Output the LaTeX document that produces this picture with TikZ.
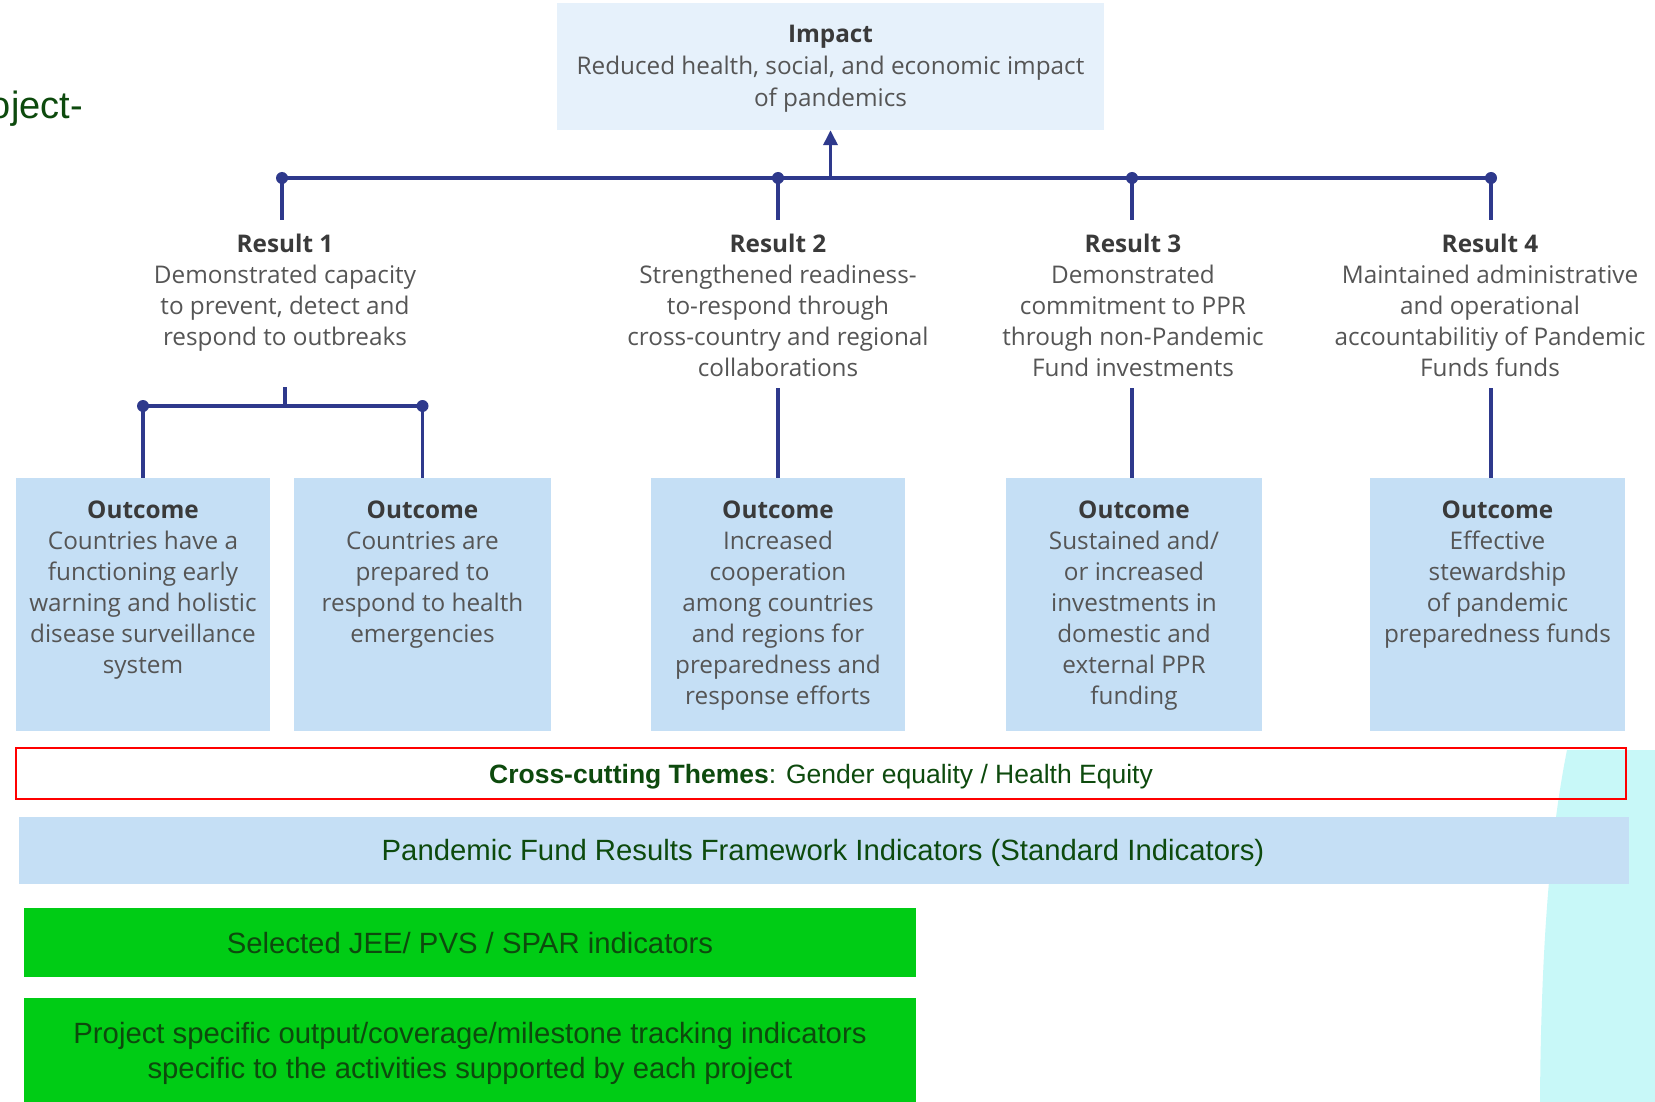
\documentclass[tikz,border=0pt]{standalone}
\usepackage{fontspec}
\setmainfont{Open Sans}
\newfontfamily\arialf{Liberation Sans}
\usetikzlibrary{arrows.meta}
\definecolor{navy}{HTML}{2E398C}
\definecolor{txtgray}{HTML}{555555}
\definecolor{hdgray}{HTML}{3A3A3A}
\definecolor{paleblue}{HTML}{E6F1FB}
\definecolor{boxblue}{HTML}{C5DFF5}
\definecolor{dkgreen}{HTML}{0D4A0D}
\definecolor{brgreen}{HTML}{00CC15}
\definecolor{cyanbg}{HTML}{C8F8F8}
\definecolor{redline}{HTML}{FF0000}
\begin{document}
\begin{tikzpicture}[x=1pt,y=-1pt,
  conn/.style={draw=navy, line width=3.5pt},
  jdot/.style={circle, fill=navy, inner sep=0pt, minimum size=12pt},
  obox/.style={fill=boxblue, draw=none, inner sep=0pt, minimum height=253pt},
  dtext/.style={align=center, inner sep=0pt, text=txtgray, font=\fontsize{24.3}{31}\selectfont},
  gtext/.style={text=dkgreen, font=\arialf\fontsize{29.3}{35}\selectfont, align=center, inner sep=0pt},
]
\useasboundingbox (0,0) rectangle (1655,1102);
\fill[white] (0,0) rectangle (1655,1102);
\clip (0,0) rectangle (1655,1102);

% background cyan shape at right
\fill[cyanbg] (1567,750) -- (1655,750) -- (1655,1102) -- (1540,1102)
  .. controls (1541,940) and (1551,830) .. (1567,750) -- cycle;

% cut-off title text
\node[text=dkgreen, font=\arialf\fontsize{38}{42}\selectfont, anchor=base east, inner sep=0pt] (title) at (83,119) {oject-};

% impact
\node[fill=paleblue, inner sep=0pt, minimum width=547pt, minimum height=127pt] (impact) at (830.5,66.5) {};
\node[dtext, font=\fontsize{24.3}{32}\selectfont, anchor=north] (impactt) at (830.5,24.5)
  {\textcolor{hdgray}{\bfseries Impact}\\Reduced health, social, and economic impact\\of pandemics};

% main bus
\coordinate (j1) at (282,178);
\coordinate (j2) at (778,178);
\coordinate (j3) at (1132,178);
\coordinate (j4) at (1491,178);
\coordinate (ja) at (830.5,178);
\draw[conn] (j1) -- (j4);
\draw[conn, -{Triangle[width=14pt,length=15pt]}] (ja) -- (impact.south);
\coordinate (s1) at (282,220);
\coordinate (s2) at (778,220);
\coordinate (s3) at (1132,220);
\coordinate (s4) at (1491,220);
\draw[conn] (j1) -- (s1);
\draw[conn] (j2) -- (s2);
\draw[conn] (j3) -- (s3);
\draw[conn] (j4) -- (s4);
\node[jdot] (d1) at (j1) {};
\node[jdot] (d2) at (j2) {};
\node[jdot] (d3) at (j3) {};
\node[jdot] (d4) at (j4) {};

% results
\node[dtext, anchor=north] (r1) at (285,233.5)
  {\textcolor{hdgray}{\bfseries Result 1}\\Demonstrated capacity\\to prevent, detect and\\respond to outbreaks};
\node[dtext, anchor=north] (r2) at (778,233.5)
  {\textcolor{hdgray}{\bfseries Result 2}\\Strengthened readiness-\\to-respond through\\cross-country and regional\\collaborations};
\node[dtext, anchor=north] (r3) at (1133,233.5)
  {\textcolor{hdgray}{\bfseries Result 3}\\Demonstrated\\commitment to PPR\\through non-Pandemic\\Fund investments};
\node[dtext, anchor=north] (r4) at (1490,233.5)
  {\textcolor{hdgray}{\bfseries Result 4}\\Maintained administrative\\and operational\\accountabilitiy of Pandemic\\Funds funds};

% outcome boxes
\node[obox, minimum width=254pt] (o1) at (143,604.5) {};
\node[obox, minimum width=257pt] (o2) at (422.5,604.5) {};
\node[obox, minimum width=254pt] (o3) at (778,604.5) {};
\node[obox, minimum width=256pt] (o4) at (1134,604.5) {};
\node[obox, minimum width=255pt] (o5) at (1497.5,604.5) {};

% result -> outcome connectors
\coordinate (r1b) at (285,387);
\coordinate (r1m) at (285,406);
\coordinate (b1l) at (143,406);
\coordinate (b1r) at (422.5,406);
\draw[conn] (r1b) -- (r1m);
\draw[conn] (b1l) -- (b1r);
\draw[conn] (b1l) -- (o1.north);
\draw[conn] (b1r) -- (o2.north);
\node[jdot] (d5) at (b1l) {};
\node[jdot] (d6) at (b1r) {};
\coordinate (r2b) at (778,388);
\coordinate (r3b) at (1132,388);
\coordinate (r4b) at (1491,388);
\draw[conn] (r2b) -- (o3.north);
\draw[conn] (r3b) -- (r3b |- o4.north);
\draw[conn] (r4b) -- (r4b |- o5.north);

% outcome texts
\node[dtext, anchor=north] (o1t) at (143,501)
  {\textcolor{hdgray}{\bfseries Outcome}\\Countries have a\\functioning early\\warning and holistic\\disease surveillance\\system};
\node[dtext, anchor=north] (o2t) at (422.5,501)
  {\textcolor{hdgray}{\bfseries Outcome}\\Countries are\\prepared to\\respond to health\\emergencies};
\node[dtext, anchor=north] (o3t) at (778,501)
  {\textcolor{hdgray}{\bfseries Outcome}\\Increased\\cooperation\\among countries\\and regions for\\preparedness and\\response efforts};
\node[dtext, anchor=north] (o4t) at (1134,501)
  {\textcolor{hdgray}{\bfseries Outcome}\\Sustained and/\\or increased\\investments in\\domestic and\\external PPR\\funding};
\node[dtext, anchor=north] (o5t) at (1497.5,501)
  {\textcolor{hdgray}{\bfseries Outcome}\\Effective\\stewardship\\of pandemic\\preparedness funds};

% cross-cutting themes
\node[draw=redline, line width=2pt, inner sep=0pt, minimum width=1610pt, minimum height=51pt] (cross) at (821,773.5) {};
\node[gtext, font=\arialf\fontsize{26.5}{30}\selectfont, anchor=base] (crosst) at (821,783)
  {\textbf{Cross-cutting Themes}: Gender equality / Health Equity};

% results framework band
\node[fill=boxblue, inner sep=0pt, minimum width=1610pt, minimum height=67pt] (band) at (824,850.5) {};
\node[gtext, anchor=base] (bandt) at (823,860)
  {Pandemic Fund Results Framework Indicators (Standard Indicators)};

% green boxes
\node[fill=brgreen, inner sep=0pt, minimum width=892pt, minimum height=69pt] (g1) at (470,942.5) {};
\node[gtext, anchor=base] (g1t) at (470,953) {Selected JEE/ PVS / SPAR indicators};
\node[fill=brgreen, inner sep=0pt, minimum width=892pt, minimum height=130pt] (g2) at (470,1063) {};
\node[gtext, anchor=north] (g2t) at (470,1022)
  {Project specific output/coverage/milestone tracking indicators\\specific to the activities supported by each project};
\end{tikzpicture}
\end{document}
